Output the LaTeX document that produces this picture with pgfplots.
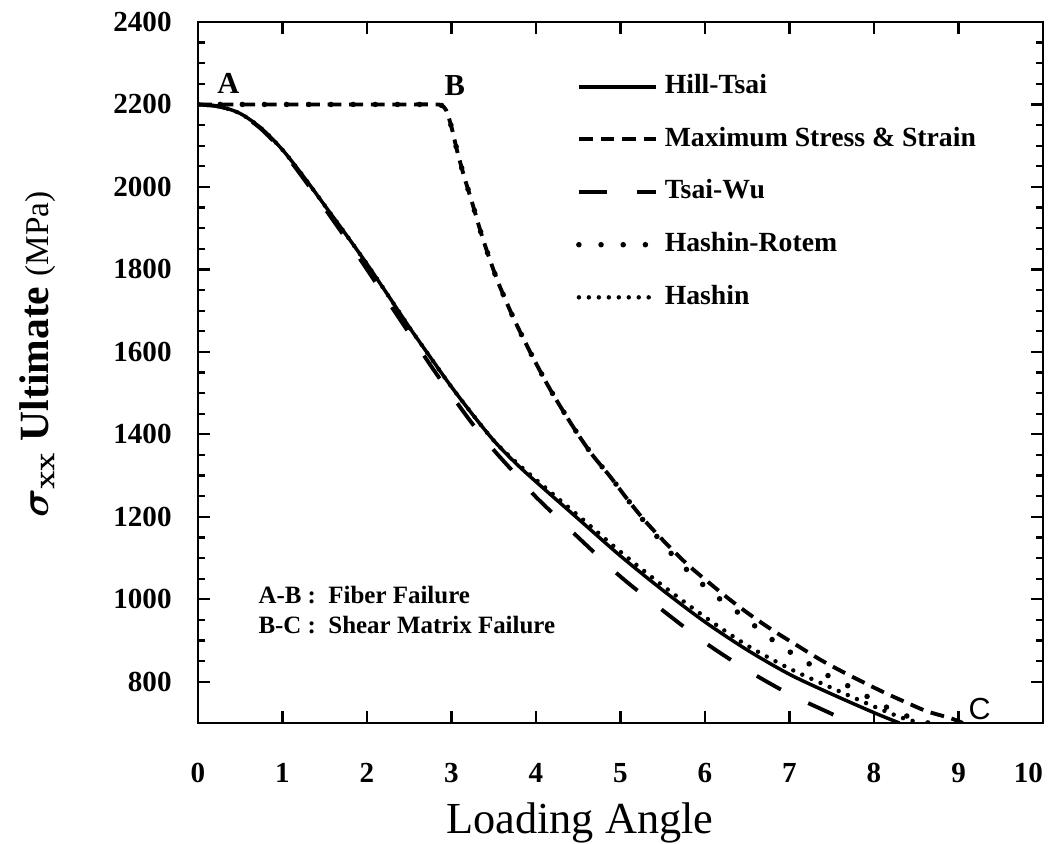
\documentclass[border=0pt]{standalone}
\usepackage{fontspec}
\setmainfont{Liberation Serif}
\setsansfont{Liberation Sans}
\usepackage{pgfplots}
\pgfplotsset{compat=1.18}
\usetikzlibrary{calc}

\begin{document}
\begin{tikzpicture}
\begin{axis}[
  scale only axis, width=305pt, height=253pt,
  xmin=0, xmax=10, ymin=700, ymax=2400,
  xtick={0,1,...,10}, ytick={800,1000,...,2400},
  xticklabels={0,1,2,3,4,5,6,7,8,9,\makebox[0pt][r]{10}},
  minor y tick num=3,
  tick align=inside,
  major tick length=4.5pt, minor tick length=2.5pt,
  every tick/.style={black, line width=0.8pt},
  axis line style={line width=1pt},
  /pgf/number format/assume math mode=true,
  /pgf/number format/1000 sep={},
  ticklabel style={font=\bfseries\fontsize{10.5}{12}\selectfont},
  xticklabel style={yshift=-11pt},
  yticklabel style={xshift=-6pt},
  xlabel={Loading Angle},
  xlabel style={at={(axis description cs:0.452,-0.143)}, anchor=center, font=\fontsize{16}{18}\selectfont},
  ylabel={{\boldmath$\sigma_{\mathbf{xx}}$}\ \textbf{Ultimate} {\fontsize{12}{14}\selectfont(MPa)}},
  ylabel style={at={(axis description cs:-0.19,0.526)}, anchor=center, font=\fontsize{15}{18}\selectfont},
  legend style={at={(axis description cs:0.437,0.938)}, anchor=north west, draw=none, fill=none,
    font=\bfseries\fontsize{10}{12}\selectfont, row sep=8pt,
    nodes={inner sep=1pt, text height=7pt, text depth=2pt},
    /tikz/every odd column/.append style={column sep=1pt}},
  legend cell align=left,
  legend image code/.code={\draw[#1] (0pt,0pt) -- (28pt,0pt);},
]
% Hill-Tsai
\addplot[black, line width=1.25pt, smooth] coordinates {
(0,2200)(0.25,2195)(0.5,2178)(0.75,2142)(1,2090)(1.25,2025)(1.5,1955)(1.75,1885)
(2,1813)(2.25,1737)(2.5,1660)(2.75,1587)(3,1515)(3.25,1448)(3.5,1385)(3.75,1332)
(4,1285)(4.5,1195)(5,1105)(5.5,1022)(6,945)(6.5,877)(7,818)(7.5,770)(8,725)(8.3,700)};
% Maximum stress & strain
\addplot[black, line width=1.4pt, dash pattern=on 5pt off 2.8pt, smooth, tension=0.5] coordinates {
(0,2200)(1,2200)(2,2200)(2.5,2200)(2.8,2200)(2.88,2198)(2.94,2185)(3.0,2145)(3.07,2085)
(3.15,2025)(3.24,1965)(3.37,1875)(3.54,1775)(3.73,1684)(3.93,1600)(4.17,1508)(4.44,1418)
(4.66,1352)(4.88,1297)(5.08,1243)(5.29,1190)(5.56,1131)(5.8,1083)(6.06,1038)(6.32,995)
(6.57,957)(6.83,921)(7.09,888)(7.36,854)(7.62,825)(7.86,800)(8.13,773)(8.39,749)
(8.63,728)(8.9,712)(9.05,700)};
% Tsai-Wu
\addplot[black, line width=1.4pt, dash pattern=on 10pt off 11pt, smooth] coordinates {
(0,2200)(0.25,2195)(0.5,2177)(0.75,2140)(1,2087)(1.25,2020)(1.5,1948)(1.75,1875)
(2,1800)(2.25,1722)(2.5,1645)(2.75,1568)(3,1495)(3.25,1425)(3.5,1362)(3.75,1305)
(4,1248)(4.5,1150)(5,1055)(5.5,973)(6,895)(6.5,828)(7,770)(7.5,722)(7.72,700)};
% Hashin-Rotem
\addplot[black, line width=2pt, line cap=round, dash pattern=on 0pt off 8pt, smooth, tension=0.5] coordinates {
(0,2200)(1,2200)(2,2200)(2.5,2200)(2.8,2200)(2.88,2198)(2.94,2185)(3.0,2145)(3.07,2085)
(3.15,2025)(3.24,1965)(3.37,1875)(3.54,1775)(3.73,1684)(3.93,1600)(4.17,1508)(4.44,1418)
(4.66,1352)(4.88,1297)(5.08,1243)(5.29,1186)(5.44,1150)(5.67,1095)(5.94,1042)(6.21,995)
(6.47,956)(6.69,918)(6.97,877)(7.22,845)(7.48,812)(7.74,785)(7.99,756)(8.25,728)
(8.51,708)(8.64,700)};
% Hashin
\addplot[black, line width=1.6pt, line cap=round, dash pattern=on 0pt off 3.6pt, smooth] coordinates {
(0,2200)(0.25,2195)(0.5,2178)(0.75,2142)(1,2090)(1.25,2025)(1.5,1955)(1.75,1885)
(2,1813)(2.25,1737)(2.5,1660)(2.75,1587)(3,1515)(3.25,1448)(3.5,1385)(3.75,1335)
(4,1290)(4.5,1203)(5,1115)(5.5,1033)(6,957)(6.5,888)(7,832)(7.5,785)(8,740)(8.34,712)(8.56,700)};
\legend{Hill-Tsai, Maximum Stress \& Strain, Tsai-Wu, Hashin-Rotem, Hashin}

\node[font=\bfseries\fontsize{11}{12}\selectfont] at (axis cs:0.36,2252) {A};
\node[font=\bfseries\fontsize{11}{12}\selectfont] at (axis cs:3.04,2247) {B};
\node[font=\sffamily\fontsize{11}{12}\selectfont] at (axis cs:9.25,735) {C};
\node[anchor=west, inner sep=0pt, font=\bfseries\fontsize{9}{10.8}\selectfont] at (axis cs:0.71,969)
  {\begin{tabular}{@{}l@{\ :\ \ }l@{}}A-B & Fiber Failure\\ B-C & Shear Matrix Failure\end{tabular}};
\end{axis}
\pgfresetboundingbox
\path[use as bounding box] ($(current axis.south west)+(-71.45pt,-43.67pt)$) rectangle ($(current axis.north east)+(3.6pt,7.94pt)$);
\end{tikzpicture}
\end{document}
